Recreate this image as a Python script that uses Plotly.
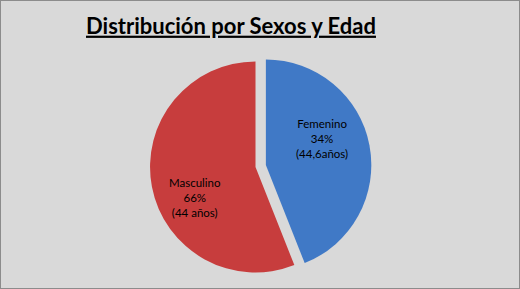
import plotly.graph_objects as go

# Data
categories = ["Femenino", "Masculino"]
slice_values = [44, 56]          # slice sizes as drawn
pct_labels = ["34%", "66%"]      # percentages as printed on the chart
age_labels = ["(44,6años)", "(44 años)"]
colors = ["#4079c6", "#c73d3d"]
pulls = [0.1, 0]

W, H = 520, 289

fig = go.Figure(go.Pie(
    labels=categories,
    values=slice_values,
    textinfo="none",
    marker=dict(colors=colors, line=dict(width=0)),
    pull=pulls,
    sort=False,
    direction="clockwise",
    rotation=0,
    showlegend=False,
    hoverinfo="skip",
    domain=dict(x=[139.5 / W, 371.5 / W], y=[(H - 283) / H, (H - 51) / H]),
))

label_pos = [(322, 138), (195, 197)]
annotations = []
for cat, pct, age, (px, py) in zip(categories, pct_labels, age_labels, label_pos):
    annotations.append(dict(
        text=f"{cat}<br>{pct}<br>{age}",
        x=px / W, y=1 - py / H, xref="paper", yref="paper",
        xanchor="center", yanchor="middle", showarrow=False, align="center",
        font=dict(family="Lato", size=11.5, color="black"),
    ))

fig.update_layout(
    width=W, height=H,
    margin=dict(l=0, r=0, t=0, b=0),
    paper_bgcolor="#d9d9d9",
    plot_bgcolor="#d9d9d9",
    title=dict(
        text="<b>Distribución por Sexos y Edad</b>",
        x=231 / W, xanchor="center",
        y=1 - 26 / H, yanchor="middle",
        font=dict(family="Lato", size=22, color="black", lineposition="under"),
    ),
    annotations=annotations,
    shapes=[dict(type="rect", xref="paper", yref="paper", x0=0, x1=1, y0=0, y1=1,
                 line=dict(color="#8c8c8c", width=2), fillcolor="rgba(0,0,0,0)")],
)

fig.write_html("out.html")
